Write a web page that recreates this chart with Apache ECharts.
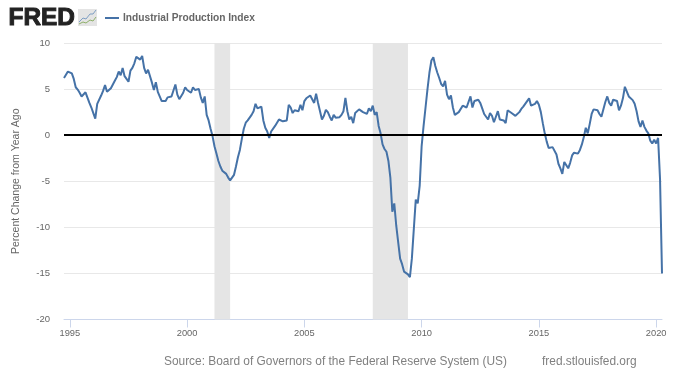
<!DOCTYPE html>
<html>
<head>
<meta charset="utf-8">
<title>Industrial Production Index</title>
<script src="https://cdn.jsdelivr.net/npm/echarts@6/dist/echarts.min.js"></script>
<style>
  html, body { margin: 0; padding: 0; background: #fff; }
  #chart { width: 680px; height: 383px; }
</style>
</head>
<body>
<div id="chart"></div>
<script>
// percent change from a year ago, monthly, Oct 1994 to Apr 2020
const values = [
  6.2, 6.4, 6.9,
  6.85, 6.7, 6.1, 5.2, 4.95, 4.6, 4.2, 4.0, 4.65, 4.65, 3.5, 3.0,
  2.4, 1.8, 3.4, 3.2, 4.3, 4.8, 5.45, 4.7, 4.9, 5.1, 5.2, 5.9,
  6.3, 6.9, 6.5, 7.3, 6.4, 6.1, 5.8, 7.0, 7.3, 7.8, 8.5, 8.45,
  8.2, 8.6, 7.3, 6.7, 7.1, 7.1, 5.7, 4.9, 5.75, 4.7, 4.6, 3.7,
  3.7, 3.7, 4.1, 4.2, 4.2, 4.3, 5.5, 4.4, 3.9, 4.0, 4.6, 5.2,
  4.9, 4.7, 4.6, 5.2, 4.9, 4.9, 5.0, 4.1, 3.5, 4.2, 2.2, 1.6,
  0.7, -0.1, -1.2, -2.0, -2.8, -3.4, -3.85, -3.8, -4.2, -4.6, -4.9, -5.1,
  -4.3, -3.4, -2.4, -1.6, -0.4, 0.7, 1.35, 1.6, 1.8, 2.2, 2.6, 3.4,
  2.9, 3.0, 3.1, 1.6, 0.8, 0.4, -0.3, 0.4, 0.3, 1.0, 1.35, 1.7,
  1.9, 1.5, 1.7, 1.6, 3.3, 3.0, 2.4, 2.7, 2.9, 2.6, 3.3, 2.7,
  3.7, 4.0, 4.1, 4.3, 3.9, 3.5, 4.5, 3.5, 3.7, 1.7, 2.1, 2.75,
  2.5, 2.0, 1.6, 2.2, 1.9, 1.9, 1.95, 2.2, 2.6, 4.05, 2.6, 1.7,
  2.0, 1.3, 2.4, 2.5, 2.8, 2.7, 2.5, 2.4, 2.3, 2.9, 2.6, 3.2,
  2.2, 2.5, 1.0, 0.2, -1.0, -1.5, -1.8, -2.8, -4.6, -8.3, -7.4, -9.8,
  -11.6, -13.4, -14.0, -14.8, -14.9, -15.1, -15.4, -13.4, -10.2, -7.0, -7.4, -5.5,
  -1.2, 1.0, 3.0, 5.0, 6.8, 8.1, 8.45, 7.5, 6.8, 6.2, 5.55, 5.3,
  5.9, 4.4, 3.9, 4.3, 3.0, 2.2, 2.3, 2.5, 2.3, 3.2, 3.3, 3.0,
  2.8, 4.2, 3.0, 3.7, 3.9, 3.85, 3.5, 2.9, 2.3, 2.3, 1.7, 2.4,
  2.1, 1.4, 2.0, 2.6, 1.7, 1.8, 1.6, 1.3, 2.7, 2.7, 2.4, 2.25,
  2.1, 1.95, 2.5, 2.85, 3.1, 3.4, 3.6, 4.0, 3.2, 3.1, 3.4, 3.7,
  3.3, 2.5, 1.3, 0.2, -0.7, -1.4, -1.3, -1.3, -1.3, -2.1, -3.1, -3.6,
  -4.2, -2.9, -3.1, -3.6, -3.0, -2.2, -1.9, -2.1, -2.0, -1.6, -1.0, -0.2,
  0.8, 0.2, 1.2, 2.3, 2.8, 2.9, 2.7, 2.3, 2.0, 2.0, 3.6, 4.2,
  3.5, 3.2, 3.85, 3.8, 3.7, 2.7, 3.2, 4.0, 5.25, 5.45, 4.2, 4.1,
  3.8, 3.4, 2.6, 1.5, 0.9, 1.6, 0.9, 0.5, 0.2, -0.6, -0.9, -0.5,
  -0.9, -0.3, -4.8, -15.0
];

const labelYears = [1995, 2000, 2005, 2010, 2015, 2020];
const recessions = [
  ["2001-03", "2001-11"],
  ["2007-12", "2009-06"],
];
const yTicks = { min: -20, max: 10, step: 5 };

// month names for the category axis
const months = [];
for (let i = 0; i < values.length; i++) {
  const m = 9 + i; // Oct 1994 is month 9 of 1994
  const y = 1994 + Math.floor(m / 12);
  months.push(y + "-" + String((m % 12) + 1).padStart(2, "0"));
}

const isLabelMonth = (idx, name) =>
  name.endsWith("-01") && labelYears.includes(Number(name.slice(0, 4)));

const fontFamily = '"Liberation Sans", Arial, sans-serif';
const chart = echarts.init(document.getElementById("chart"), null, { renderer: "canvas" });

chart.setOption({
  animation: false,
  backgroundColor: "#fff",
  grid: { left: 64, right: 18, top: 43, bottom: 63.5, outerBoundsMode: "none" },
  legend: {
    left: 100,
    top: 8,
    itemWidth: 14,
    itemHeight: 2,
    icon: "rect",
    itemGap: 3,
    textStyle: { color: "#666", fontSize: 10.2, fontWeight: "bold", fontFamily, padding: [0, 0, 0, -1] },
    data: ["Industrial Production Index"],
  },
  xAxis: {
    type: "category",
    boundaryGap: false,
    data: months,
    axisLine: { onZero: false, lineStyle: { color: "#ccd6eb", width: 1 } },
    axisTick: { interval: isLabelMonth, length: 8, lineStyle: { color: "#ccd6eb" } },
    axisLabel: {
      interval: isLabelMonth,
      formatter: (v) => v.slice(0, 4),
      color: "#666",
      fontSize: 9.3,
      fontFamily,
      margin: 9,
      hideOverlap: false,
    },
    splitLine: { show: false },
  },
  yAxis: {
    type: "value",
    min: yTicks.min,
    max: yTicks.max,
    interval: yTicks.step,
    name: "Percent Change from Year Ago",
    nameLocation: "middle",
    nameGap: 42,
    nameTextStyle: { color: "#666", fontSize: 10.5, fontFamily },
    axisLine: { show: false },
    axisTick: { show: false },
    axisLabel: { color: "#666", fontSize: 9.5, fontFamily, margin: 14 },
    splitLine: { lineStyle: { color: "#e8e8e8", width: 1 } },
  },
  series: [
    {
      name: "Industrial Production Index",
      type: "line",
      data: values,
      showSymbol: false,
      smooth: false,
      itemStyle: { color: "#4572a7" },
      lineStyle: { color: "#4572a7", width: 2 },
      z: 3,
      markArea: {
        silent: true,
        itemStyle: { color: "#e5e5e5" },
        data: recessions.map((r) => [{ xAxis: r[0] }, { xAxis: r[1] }]),
      },
      markLine: {
        silent: true,
        symbol: "none",
        label: { show: false },
        lineStyle: { color: "#000", width: 2, type: "solid" },
        data: [{ yAxis: 0 }],
      },
    },
  ],
  graphic: [
    {
      type: "text",
      left: 8,
      top: 6,
      style: {
        text: "FRED",
        fill: "#222",
        stroke: "#222",
        lineWidth: 1,
        font: 'bold 24.4px "Liberation Sans", Arial, sans-serif',
      },
    },
    {
      type: "rect",
      shape: { x: 78, y: 9, width: 19, height: 17 },
      style: { fill: "#e4e4e4" },
    },
    {
      type: "polyline",
      shape: { points: [[79, 22], [83, 18], [86, 19], [90, 14], [93, 14], [96, 10]] },
      style: { stroke: "#7f9fc4", fill: null, lineWidth: 1 },
    },
    {
      type: "polyline",
      shape: { points: [[79, 24], [83, 22], [86, 23], [90, 20], [93, 21], [96, 17]] },
      style: { stroke: "#8fb06a", fill: null, lineWidth: 1 },
    },
    {
      type: "text",
      left: 164,
      top: 356,
      style: {
        text: "Source: Board of Governors of the Federal Reserve System (US)",
        fill: "#808080",
        font: '11.9px "Liberation Sans", Arial, sans-serif',
      },
    },
    {
      type: "text",
      left: 542,
      top: 356,
      style: {
        text: "fred.stlouisfed.org",
        fill: "#808080",
        font: '11.9px "Liberation Sans", Arial, sans-serif',
      },
    },
  ],
});
</script>
</body>
</html>
